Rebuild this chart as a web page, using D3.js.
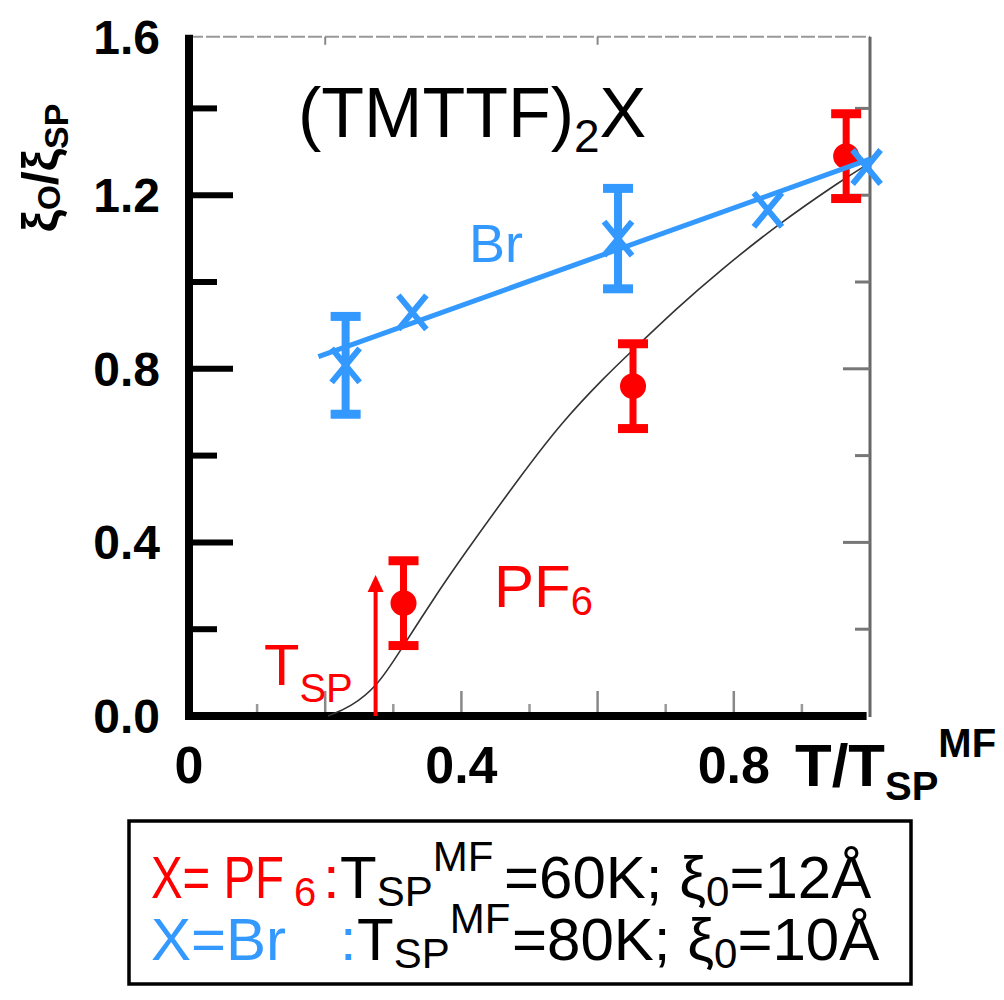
<!DOCTYPE html>
<html><head><meta charset="utf-8">
<script src="https://cdn.jsdelivr.net/npm/d3@7"></script>
<style>html,body{margin:0;padding:0;background:#fff;}svg{display:block;font-family:"Liberation Sans",Arial,sans-serif;}</style>
</head><body>
<script>
// ---- data ----
const pfX = [0.315, 0.652, 0.965];
const pfY = [0.26, 0.76, 1.29];
const pfErr = [0.10, 0.10, 0.10];

const brX = [0.23, 0.328, 0.63, 0.85, 0.995];
const brY = [0.808, 0.93, 1.10, 1.166, 1.265];
const brErr = [0.115, 0, 0.118, 0, 0];

const brFitX = [0.19, 1.0];
const brFitY = [0.828, 1.283];

const curveX = [0.204, 0.237, 0.277, 0.306, 0.359, 0.398, 0.49, 0.549, 0.613, 0.643, 0.72, 0.779, 0.862, 0.959, 1.0];
const curveY = [0.0, 0.02, 0.07, 0.14, 0.27, 0.36, 0.56, 0.68, 0.785, 0.83, 0.945, 1.025, 1.13, 1.235, 1.275];

const tspArrowX = 0.274;
const tspArrowTop = 0.325;

const yTickVals = [0, 0.4, 0.8, 1.2, 1.6];
const yTickLabels = ["0.0", "0.4", "0.8", "1.2", "1.6"];
const yMajorTicks = [0.4, 0.8, 1.2];
const yMinorTicks = [0.2, 0.6, 1.0, 1.4];
const xTickVals = [0, 0.4, 0.8];
const xTickLabels = ["0", "0.4", "0.8"];
const xMajorTicks = [0.2, 0.4, 0.6, 0.8];
const xMinorTicks = [0.1, 0.3, 0.5, 0.7, 0.9];
const yFrameTop = 1.565;

const RED = "#ff0000", BLUE = "#3399ff";

// ---- scales ----
const x = d3.scaleLinear().domain([0, 1]).range([189, 870]);
const y = d3.scaleLinear().domain([0, 1.6]).range([716, 21.6]).clamp(true);

const svg = d3.select("body").append("svg").attr("width", 1004).attr("height", 1000);

// frame (top / right, grey)
svg.append("line").attr("x1", x(0)).attr("x2", x(1)).attr("y1", y(yFrameTop)).attr("y2", y(yFrameTop))
  .attr("stroke", "#999").attr("stroke-width", 2).attr("stroke-dasharray", "14,3");
svg.append("line").attr("x1", x(1)).attr("x2", x(1)).attr("y1", y(yFrameTop)).attr("y2", y(0) + 1)
  .attr("stroke", "#666").attr("stroke-width", 3);
svg.selectAll(".rtick").data(yMajorTicks.concat(yMinorTicks)).enter().append("line")
  .attr("x1", x(1)).attr("x2", d => x(1) - (yMajorTicks.includes(d) ? 27 : 15))
  .attr("y1", d => y(d)).attr("y2", d => y(d)).attr("stroke", "#777").attr("stroke-width", 3);
svg.selectAll(".ttick").data([0.2, 0.6]).enter().append("line")
  .attr("x1", d => x(d)).attr("x2", d => x(d)).attr("y1", y(yFrameTop)).attr("y2", y(yFrameTop) + 8)
  .attr("stroke", "#888").attr("stroke-width", 2);

// bottom ticks (grey, inside)
svg.selectAll(".xmaj").data(xMajorTicks).enter().append("line")
  .attr("x1", d => x(d)).attr("x2", d => x(d)).attr("y1", y(0)).attr("y2", y(0) - 25)
  .attr("stroke", "#888").attr("stroke-width", 2.5);
svg.selectAll(".xmin").data(xMinorTicks).enter().append("line")
  .attr("x1", d => x(d)).attr("x2", d => x(d)).attr("y1", y(0)).attr("y2", y(0) - 12)
  .attr("stroke", "#999").attr("stroke-width", 2.5);

// left axis ticks (black)
svg.selectAll(".ymaj").data(yMajorTicks).enter().append("line")
  .attr("x1", x(0)).attr("x2", x(0) + 44).attr("y1", d => y(d)).attr("y2", d => y(d))
  .attr("stroke", "#000").attr("stroke-width", 6);
svg.selectAll(".ymin").data(yMinorTicks).enter().append("line")
  .attr("x1", x(0)).attr("x2", x(0) + 28).attr("y1", d => y(d)).attr("y2", d => y(d))
  .attr("stroke", "#000").attr("stroke-width", 6);

// axes lines
svg.append("line").attr("x1", x(0)).attr("x2", x(0)).attr("y1", y(yFrameTop) - 2).attr("y2", y(0) + 4)
  .attr("stroke", "#000").attr("stroke-width", 8);
svg.append("line").attr("x1", x(0) - 4).attr("x2", x(0.995)).attr("y1", y(0)).attr("y2", y(0))
  .attr("stroke", "#000").attr("stroke-width", 8);

// tick labels
svg.selectAll(".ylab").data(yTickVals).enter().append("text")
  .attr("x", 160).attr("y", d => Math.max(y(d), y(yFrameTop)) + 17)
  .attr("text-anchor", "end").attr("font-size", 48).attr("font-weight", "bold")
  .text((d, i) => yTickLabels[i]);
svg.selectAll(".xlab").data(xTickVals).enter().append("text")
  .attr("x", d => x(d)).attr("y", 783)
  .attr("text-anchor", "middle").attr("font-size", 52).attr("font-weight", "bold")
  .text((d, i) => xTickLabels[i]);

// axis titles
const xt = svg.append("text").attr("x", 795).attr("y", 786).attr("font-weight", "bold").attr("font-size", 60);
xt.append("tspan").text("T/T");
xt.append("tspan").attr("font-size", 40).attr("dy", 14).text("SP");
xt.append("tspan").attr("font-size", 40).attr("dy", -43).text("MF");

const yt = svg.append("text").attr("transform", "translate(57,168) rotate(-90)")
  .attr("text-anchor", "middle").attr("font-weight", "bold").attr("font-size", 50);
yt.append("tspan").text("ξ");
yt.append("tspan").attr("font-size", 32).attr("dy", 3).text("O");
yt.append("tspan").attr("dy", -3).text("/ξ");
yt.append("tspan").attr("font-size", 34).attr("dy", 11).text("SP");

// title
const tt = svg.append("text").attr("x", 298).attr("y", 137).attr("font-size", 70);
tt.append("tspan").text("(TMTTF)");
tt.append("tspan").attr("font-size", 46).attr("dy", 15).text("2");
tt.append("tspan").attr("dy", -15).text("X");

// theory curve
const cdata = curveX.map((v, i) => [v, curveY[i]]);
svg.append("path").datum(cdata)
  .attr("d", d3.line().x(d => x(d[0])).y(d => y(d[1])).curve(d3.curveBasis))
  .attr("fill", "none").attr("stroke", "#333").attr("stroke-width", 1.6);

// T_SP arrow
svg.append("line").attr("x1", x(tspArrowX)).attr("x2", x(tspArrowX)).attr("y1", y(0)).attr("y2", y(tspArrowTop) + 12)
  .attr("stroke", RED).attr("stroke-width", 4);
svg.append("path")
  .attr("d", `M${x(tspArrowX)},${y(tspArrowTop)} l-8,17 l16,0 z`).attr("fill", RED);
const ts = svg.append("text").attr("x", 264).attr("y", 685).attr("fill", RED).attr("font-size", 58);
ts.append("tspan").text("T");
ts.append("tspan").attr("font-size", 40).attr("dy", 17).text("SP");

// PF6 label
const pl = svg.append("text").attr("x", 494).attr("y", 607).attr("fill", RED).attr("font-size", 60);
pl.append("tspan").text("PF");
pl.append("tspan").attr("font-size", 40).attr("dy", 8).text("6");

// Br label
svg.append("text").attr("x", 469).attr("y", 262).attr("fill", BLUE).attr("font-size", 54).text("Br");

// PF6 error bars and points
const pf = pfX.map((v, i) => ({x: v, y: pfY[i], e: pfErr[i]}));
const pg = svg.append("g");
pg.selectAll(".pv").data(pf).enter().append("line")
  .attr("x1", d => x(d.x)).attr("x2", d => x(d.x)).attr("y1", d => y(d.y - d.e)).attr("y2", d => y(d.y + d.e))
  .attr("stroke", RED).attr("stroke-width", 7);
pg.selectAll(".pc1").data(pf).enter().append("line")
  .attr("x1", d => x(d.x) - 15).attr("x2", d => x(d.x) + 15).attr("y1", d => y(d.y + d.e) + 1).attr("y2", d => y(d.y + d.e) + 1)
  .attr("stroke", RED).attr("stroke-width", 9);
pg.selectAll(".pc2").data(pf).enter().append("line")
  .attr("x1", d => x(d.x) - 15).attr("x2", d => x(d.x) + 15).attr("y1", d => y(d.y - d.e) - 1).attr("y2", d => y(d.y - d.e) - 1)
  .attr("stroke", RED).attr("stroke-width", 9);
pg.selectAll("circle").data(pf).enter().append("circle")
  .attr("cx", d => x(d.x)).attr("cy", d => y(d.y)).attr("r", 13).attr("fill", RED);

// Br fit line
svg.append("line").attr("x1", x(brFitX[0])).attr("y1", y(brFitY[0])).attr("x2", x(brFitX[1])).attr("y2", y(brFitY[1]))
  .attr("stroke", BLUE).attr("stroke-width", 5);

// Br error bars and markers
const br = brX.map((v, i) => ({x: v, y: brY[i], e: brErr[i]}));
const bg = svg.append("g");
const brE = br.filter(d => d.e > 0);
bg.selectAll(".bv").data(brE).enter().append("line")
  .attr("x1", d => x(d.x)).attr("x2", d => x(d.x)).attr("y1", d => y(d.y - d.e)).attr("y2", d => y(d.y + d.e))
  .attr("stroke", BLUE).attr("stroke-width", 8);
bg.selectAll(".bc1").data(brE).enter().append("line")
  .attr("x1", d => x(d.x) - 15).attr("x2", d => x(d.x) + 15).attr("y1", d => y(d.y + d.e) + 1).attr("y2", d => y(d.y + d.e) + 1)
  .attr("stroke", BLUE).attr("stroke-width", 9);
bg.selectAll(".bc2").data(brE).enter().append("line")
  .attr("x1", d => x(d.x) - 15).attr("x2", d => x(d.x) + 15).attr("y1", d => y(d.y - d.e) - 1).attr("y2", d => y(d.y - d.e) - 1)
  .attr("stroke", BLUE).attr("stroke-width", 9);
bg.selectAll(".bx").data(br).enter().append("path")
  .attr("d", d => { const cx = x(d.x), cy = y(d.y); return `M${cx-14},${cy-17}L${cx+14},${cy+17}M${cx+14},${cy-17}L${cx-14},${cy+17}`; })
  .attr("stroke", BLUE).attr("stroke-width", 6).attr("fill", "none");

// legend box
svg.append("rect").attr("x", 129).attr("y", 821).attr("width", 782).attr("height", 163)
  .attr("fill", "none").attr("stroke", "#000").attr("stroke-width", 3.5);

function legendTail(baseY, color, colonX, tX, rest, eqX, sub0, tail) {
  svg.append("text").attr("x", colonX).attr("y", baseY).attr("font-size", 60).attr("fill", color).text(":");
  const t = svg.append("text").attr("x", tX).attr("y", baseY).attr("font-size", 60);
  t.append("tspan").text("T");
  t.append("tspan").attr("font-size", 42).attr("y", baseY + 8).text("SP");
  t.append("tspan").attr("font-size", 42).attr("y", baseY - 27).text("MF");
  t.append("tspan").attr("x", eqX).attr("y", baseY).text(rest);
  t.append("tspan").attr("font-size", 42).attr("y", baseY + 8).text(sub0);
  t.append("tspan").attr("y", baseY).text(tail);
}
// line 1
svg.append("text").attr("transform", "translate(151,898) scale(0.79,1)").attr("font-size", 60).attr("fill", RED)
  .text("X= PF");
svg.append("text").attr("x", 294).attr("y", 906).attr("font-size", 40).attr("fill", RED).text("6");
legendTail(898, RED, 323, 340, "=60K; ξ", 504, "0", "=12Å");
// line 2
svg.append("text").attr("x", 151).attr("y", 960).attr("font-size", 60).attr("fill", BLUE).text("X=Br");
legendTail(960, BLUE, 340, 357, "=80K; ξ", 512, "0", "=10Å");
</script>
</body></html>
